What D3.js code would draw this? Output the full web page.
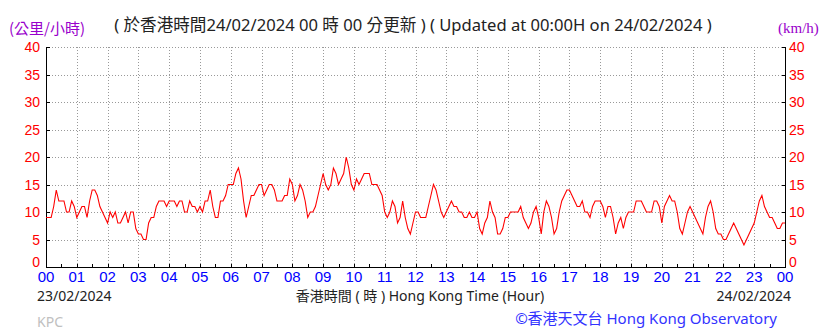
<!DOCTYPE html>
<html>
<head>
<meta charset="utf-8">
<script src="https://cdn.jsdelivr.net/npm/d3@7"></script>
<style>
  body { margin: 0; background: #fff; }
  svg { display: block; font-family: "Liberation Sans", Arial, sans-serif; }
</style>
</head>
<body>
<div id="chart"></div>
<script>
// data: 5-minute wind speed (km/h), 23/02/2024 00:00 -> 24/02/2024 00:00
const hourLabels = ['00','01','02','03','04','05','06','07','08','09','10','11','12',
                    '13','14','15','16','17','18','19','20','21','22','23','00'];
const yTicks = [0, 5, 10, 15, 20, 25, 30, 35, 40];
const windSpeed = [
  9, 9, 9, 11, 14, 12, 12, 12, 10, 10, 12, 11, 9, 10, 11, 11, 9, 12, 14, 14,
  13, 11, 10, 9, 8, 10, 9, 10, 8, 8, 9, 10, 8, 10, 10, 7, 6, 6, 5, 5,
  8, 9, 9, 11, 12, 12, 12, 11, 12, 12, 12, 11, 12, 12, 10, 10, 12,
  11, 11, 10,
  11, 10, 12, 12, 14, 11, 9, 9, 12, 12, 13, 15, 15, 15, 17, 18, 16, 12, 9, 11,
  13, 13, 14, 15, 15, 13, 14, 15, 15, 14, 12, 12, 12, 13, 13, 16, 15, 12, 13, 15,
  14, 12, 9, 10, 10, 11, 13, 15, 17, 15, 14, 15, 18, 17, 15,
  16, 17, 20, 18, 15,
  14, 16, 15, 16, 17, 17, 17, 15, 15, 15, 14, 13, 10, 9, 10, 12, 11, 8, 9, 12,
  9, 7, 6, 8, 10, 10, 9, 9, 9, 11, 13, 15, 14, 12, 10, 9, 10, 11, 12, 11,
  11, 10, 10, 9, 9, 10, 9, 9, 10, 7, 6, 8,
  9, 12, 10, 9, 6, 6, 7, 9,
  9, 10, 10, 10, 10, 11, 9, 8, 7, 8, 10, 11, 9, 6, 10, 12, 11, 9, 6, 7,
  10, 12, 13, 14, 14, 13, 12, 11, 11, 12, 10, 10, 9, 11, 12, 12, 12, 11, 9, 11,
  11, 9, 6, 8, 9, 7, 9, 10, 10, 10,
  12, 12, 12, 11, 10, 10, 10, 12, 12, 11, 8, 11, 12, 13, 12, 12, 10, 7, 6, 8,
  10, 11, 10, 9, 8, 7, 6, 9, 11, 12, 10, 7, 6, 6, 5, 5, 6, 7, 8, 7,
  6, 5, 4, 5, 6, 7, 8, 10, 12, 13, 11, 10, 9, 9, 8, 7, 7, 8, 8
];
const titleText = '( 於香港時間24/02/2024 00 時 00 分更新 ) ( Updated at 00:00H on 24/02/2024 )';

const W = 838, H = 331;
const margin = { top: 47, right: 53, bottom: 64, left: 46 };

const svg = d3.select('#chart').append('svg')
  .attr('width', W).attr('height', H);

svg.append('rect').attr('width', W).attr('height', H).attr('fill', '#fff');

const x = d3.scaleLinear().domain([0, 24]).range([margin.left, W - margin.right]);
const y = d3.scaleLinear().domain([0, 40]).range([H - margin.bottom, margin.top]);
const step = 24 / (windSpeed.length - 1);

// grid
const grid = svg.append('g').attr('stroke', '#999').attr('stroke-dasharray', '1,2');
grid.selectAll('.gx').data(d3.range(1, 24)).enter().append('line')
  .attr('x1', d => Math.round(x(d)) + 0.5).attr('x2', d => Math.round(x(d)) + 0.5)
  .attr('y1', y(40)).attr('y2', y(0));
grid.selectAll('.gy').data(yTicks.filter(d => d > 0)).enter().append('line')
  .attr('x1', x(0)).attr('x2', x(24))
  .attr('y1', d => Math.round(y(d)) + 0.5).attr('y2', d => Math.round(y(d)) + 0.5);

// axes frame
const frame = svg.append('g').attr('stroke', '#000').attr('fill', 'none');
frame.append('path').attr('d', `M${x(0) + 0.5},${y(40)}V${y(0) + 0.5}H${x(24) + 0.5}V${y(40)}`);
// inner y ticks
frame.selectAll('.ty').data(yTicks).enter().append('path')
  .attr('d', d => `M${x(0)},${Math.round(y(d)) + 0.5}h4M${x(24) + 1},${Math.round(y(d)) + 0.5}h-4`);
// half-hour x ticks
frame.selectAll('.tx').data(d3.range(0, 24.01, 0.5)).enter().append('path')
  .attr('d', d => `M${Math.round(x(d)) + 0.5},${y(0)}v-3`);

// line
const line = d3.line()
  .x((d, i) => x(i * step))
  .y(d => y(d));
svg.append('path').datum(windSpeed)
  .attr('d', line)
  .attr('fill', 'none')
  .attr('stroke', '#ff0000')
  .attr('stroke-width', 1.1);

// y labels (the 0 sits a little higher so it clears the hour labels)
svg.selectAll('.yl').data(yTicks).enter().append('text')
  .attr('x', 40).attr('y', d => y(d) + (d === 0 ? 0 : 5))
  .attr('text-anchor', 'end').attr('fill', '#ff0000').attr('font-size', 14)
  .text(d => d);
svg.selectAll('.yr').data(yTicks).enter().append('text')
  .attr('x', x(24) + 4).attr('y', d => y(d) + (d === 0 ? 0 : 5))
  .attr('fill', '#ff0000').attr('font-size', 14)
  .text(d => d);

// x labels
svg.selectAll('.xl').data(hourLabels).enter().append('text')
  .attr('x', (d, i) => x(i)).attr('y', 282)
  .attr('text-anchor', 'middle').attr('fill', '#0000ff').attr('font-size', 15)
  .text(d => d);

// texts
svg.append('text').attr('x', 413).attr('y', 31).attr('text-anchor', 'middle')
  .attr('font-family', '"Noto Sans", "Noto Sans CJK TC", sans-serif').attr('font-size', 16.6)
  .attr('fill', '#222').text(titleText);
svg.append('text').attr('x', 9).attr('y', 34)
  .attr('font-family', '"Noto Sans CJK TC", sans-serif').attr('font-size', 15)
  .attr('fill', '#9900cc').text('(公里/小時)');
svg.append('text').attr('x', 778).attr('y', 33)
  .attr('font-family', '"Liberation Serif", serif').attr('font-size', 15)
  .attr('fill', '#9900cc').text('(km/h)');
svg.append('text').attr('x', 37).attr('y', 301)
  .attr('font-family', '"Noto Sans", sans-serif').attr('font-size', 14)
  .attr('fill', '#222').text('23/02/2024');
svg.append('text').attr('x', 791).attr('y', 301).attr('text-anchor', 'end')
  .attr('font-family', '"Noto Sans", sans-serif').attr('font-size', 14)
  .attr('fill', '#222').text('24/02/2024');
svg.append('text').attr('x', 420).attr('y', 301).attr('text-anchor', 'middle')
  .attr('font-family', '"Noto Sans", "Noto Sans CJK TC", sans-serif').attr('font-size', 14)
  .attr('fill', '#222').text('香港時間 ( 時 )  Hong Kong Time (Hour)');
svg.append('text').attr('x', 37).attr('y', 327)
  .attr('font-family', '"Noto Sans", sans-serif').attr('font-size', 14)
  .attr('fill', '#c0c0c0').text('KPC');
svg.append('text').attr('x', 777).attr('y', 324).attr('text-anchor', 'end')
  .attr('font-family', '"Noto Sans", "Noto Sans CJK TC", sans-serif').attr('font-size', 15)
  .attr('fill', '#3333ff').text('©香港天文台 Hong Kong Observatory');
</script>
</body>
</html>
